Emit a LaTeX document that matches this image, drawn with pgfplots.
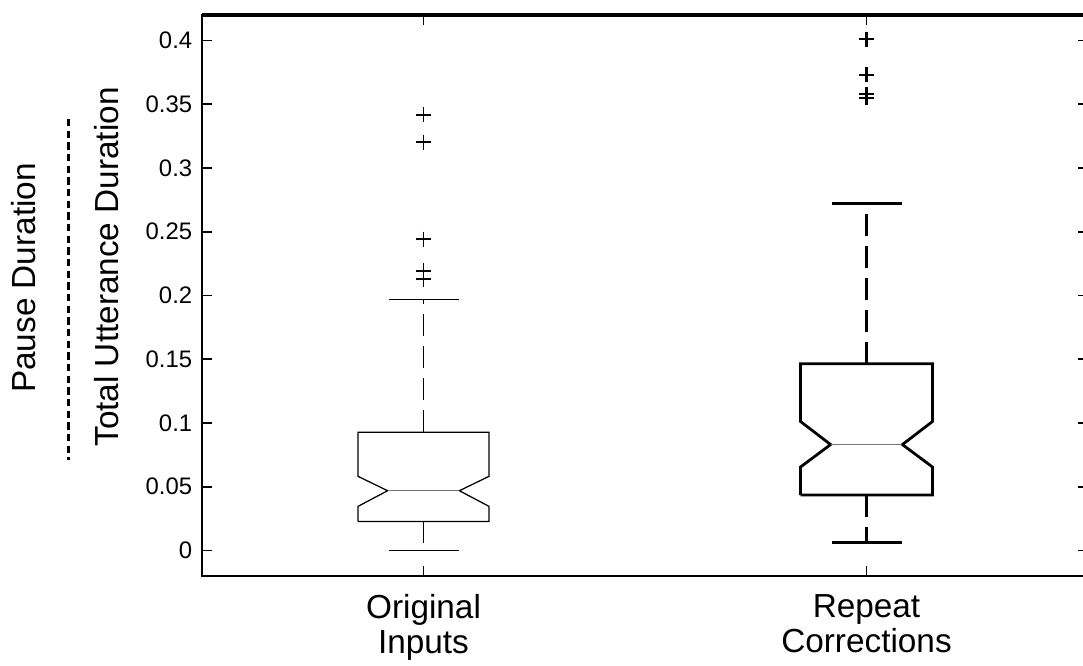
\documentclass[border=0pt]{standalone}
\usepackage{fontspec}
\setmainfont{Liberation Sans}
\usepackage{pgfplots}
\pgfplotsset{compat=1.18}

\begin{document}
\begin{tikzpicture}
\begin{axis}[
  at={(72.72pt,32.04pt)}, anchor=south west,
  scale only axis, width=318.96pt, height=201.96pt,
  xmin=0.5, xmax=2.5, ymin=-0.02, ymax=0.42,
  xtick={1,2},
  xticklabels={{Original\\Inputs},{Repeat\\Corrections}},
  xticklabel style={align=center, font=\fontsize{12}{12.6}\selectfont, yshift=-3pt},
  ytick={0,0.05,0.1,0.15,0.2,0.25,0.3,0.35,0.4},
  yticklabels={0,0.05,0.1,0.15,0.2,0.25,0.3,0.35,0.4},
  yticklabel style={font=\fontsize{8.6}{10}\selectfont},
  scaled y ticks=false,
  tick align=inside, major tick length=3.6pt,
  every tick/.style={black, line width=0.6pt},
  axis line style={line width=0.8pt},
  clip=false,
]
% heavier top and left frame lines
\draw[line width=1.4pt] (rel axis cs:0,1) -- (rel axis cs:1,1);
\draw[line width=1pt] (rel axis cs:0,0) -- (rel axis cs:0,1);

% ---- Original Inputs (thin lines) ----
% notched box: Q1 0.0228, notch 0.0346-0.0582, median 0.0469, Q3 0.0928
\addplot[black, line width=0.45pt, line join=miter] coordinates {
  (0.852,0.0228) (0.852,0.0346) (0.919,0.0469) (0.852,0.0582) (0.852,0.0928)
  (1.148,0.0928) (1.148,0.0582) (1.081,0.0469) (1.148,0.0346) (1.148,0.0228)
  (0.852,0.0228)};
\addplot[black!55, line width=0.5pt] coordinates {(0.919,0.0469) (1.081,0.0469)};
% whiskers
\addplot[black, line width=0.45pt, dash pattern=on 7.9pt off 3.6pt] coordinates {(1,0.0928) (1,0.197)};
\addplot[black, line width=0.45pt, dash pattern=on 7.9pt off 3.6pt] coordinates {(1,0.0228) (1,0.0)};
\addplot[black, line width=0.5pt] coordinates {(0.921,0.197) (1.079,0.197)};
\addplot[black, line width=0.5pt] coordinates {(0.921,0.0) (1.079,0.0)};
% outliers
\addplot[black, only marks, mark=+, mark size=2.7pt, line width=0.5pt] coordinates {
  (1,0.3417) (1,0.3203) (1,0.2443) (1,0.2193) (1,0.2128)};

% ---- Repeat Corrections (bold lines) ----
% notched box: Q1 0.0435, notch 0.0655-0.1012, median 0.0831, Q3 0.1465
\addplot[black, line width=1pt, line join=miter] coordinates {
  (1.851,0.0435) (1.851,0.0655) (1.919,0.0831) (1.851,0.1012) (1.851,0.1465)
  (2.149,0.1465) (2.149,0.1012) (2.081,0.0831) (2.149,0.0655) (2.149,0.0435)
  (1.851,0.0435)};
\addplot[black!55, line width=0.5pt] coordinates {(1.919,0.0831) (2.081,0.0831)};
% whiskers
\addplot[black, line width=1pt, dash pattern=on 7.9pt off 3.6pt] coordinates {(2,0.1465) (2,0.2723)};
\addplot[black, line width=1pt, dash pattern=on 7.9pt off 3.6pt] coordinates {(2,0.0435) (2,0.006)};
\addplot[black, line width=1pt] coordinates {(1.921,0.2723) (2.079,0.2723)};
\addplot[black, line width=1pt] coordinates {(1.921,0.006) (2.079,0.006)};
% outliers
\addplot[black, only marks, mark=+, mark size=2.7pt, line width=0.9pt] coordinates {
  (2,0.401) (2,0.373) (2,0.358) (2,0.355)};
\end{axis}

% y-axis label written as a ratio
\node[rotate=90, anchor=base, font=\fontsize{12}{14}\selectfont] at (12.6pt,139.3pt) {Pause Duration};
\draw[line width=1pt, dash pattern=on 2.7pt off 1.5pt] (24.6pt,196.6pt) -- (24.6pt,73.8pt);
\node[rotate=90, anchor=base, font=\fontsize{12}{14}\selectfont] at (42.66pt,143.3pt) {Total Utterance Duration};

\pgfresetboundingbox
\useasboundingbox (0pt,0pt) rectangle (389.88pt,239.4pt);
\end{tikzpicture}
\end{document}
